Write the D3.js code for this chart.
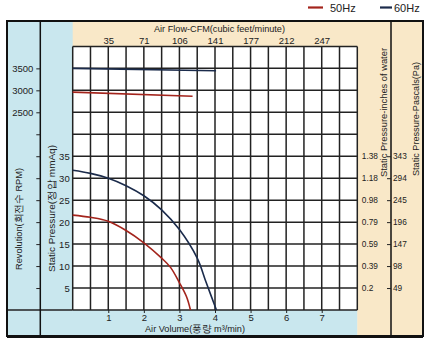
<!DOCTYPE html>
<html>
<head>
<meta charset="utf-8">
<script src="https://cdn.jsdelivr.net/npm/d3@7"></script>
<style>
  body { margin: 0; background: #fff; }
  svg { display: block; font-family: "Liberation Sans", Arial, sans-serif; }
  .axis text { fill: #222; }
  .axis .domain { display: none; }
</style>
</head>
<body>
<svg id="chart" width="425" height="341"></svg>
<script>
// air volume (m3/min) vs static pressure (mmAq)
const flow60 = [0, 0.5, 1, 1.5, 2, 2.5, 3, 3.5, 3.75, 4.04];
const press60 = [31.8, 31.1, 30.0, 28.3, 26.0, 22.8, 18.3, 11.8, 6.3, 0];
const flow50 = [0, 0.5, 1, 1.5, 2, 2.5, 2.75, 3, 3.2, 3.31];
const press50 = [21.6, 21.1, 20.2, 18.1, 15.3, 11.8, 9.7, 6.2, 3.0, 0];

// fan speed over the same flow range
const rpmFlow60 = [0, 4.03];
const rpm60 = [3500, 3445];
const rpmFlow50 = [0, 3.37];
const rpm50 = [2960, 2865];

const flowTicks = [1, 2, 3, 4, 5, 6, 7];
const cfmLabels = ["35", "71", "106", "141", "177", "212", "247"];
const pressTicks = [5, 10, 15, 20, 25, 30, 35];
const inchLabels = ["0.2", "0.39", "0.59", "0.79", "0.98", "1.18", "1.38"];
const pascalLabels = ["49", "98", "147", "196", "245", "294", "343"];
const rpmTicks = [2500, 3000, 3500];

const blue = "#c9e7ee", tan = "#f9e8c8";
const red = "#a3241c", navy = "#1b2b4b";

const svg = d3.select("#chart");

const x = d3.scaleLinear().domain([0, 8]).range([72.7, 357.3]);
const y = d3.scaleLinear().domain([0, 60]).range([310, 46.4]);
const yRpm = d3.scaleLinear().domain([2500, 3500]).range([y(45), y(55)]);

// background panels
svg.append("rect").attr("x", 7).attr("y", 21).attr("width", 66).attr("height", 316).attr("fill", blue);
svg.append("rect").attr("x", 72.7).attr("y", 310).attr("width", 285).attr("height", 27).attr("fill", blue);
svg.append("rect").attr("x", 72.7).attr("y", 21).attr("width", 351).attr("height", 25.4).attr("fill", tan);
svg.append("rect").attr("x", 357.3).attr("y", 21).attr("width", 66).attr("height", 316).attr("fill", tan);
svg.append("rect").attr("x", x(0)).attr("y", y(60)).attr("width", x(8) - x(0)).attr("height", y(0) - y(60)).attr("fill", "#fff");

// grid
const grid = svg.append("g").attr("stroke", "#222").attr("stroke-width", 1.5);
grid.selectAll(".v").data(d3.range(0, 8.01, 0.5)).join("line")
  .attr("x1", d => x(d)).attr("x2", d => x(d))
  .attr("y1", y(60)).attr("y2", y(0));
grid.selectAll(".h").data(d3.range(0, 60.1, 5)).join("line")
  .attr("x1", x(0)).attr("x2", x(8))
  .attr("y1", d => y(d)).attr("y2", d => y(d));

// frame and dividers
svg.append("line").attr("x1", 7).attr("x2", x(0)).attr("y1", y(0)).attr("y2", y(0)).attr("stroke", "#222").attr("stroke-width", 1.5);
svg.append("line").attr("x1", 40.3).attr("x2", 40.3).attr("y1", 21).attr("y2", 337).attr("stroke", "#111").attr("stroke-width", 1.5);
svg.append("line").attr("x1", 391).attr("x2", 391).attr("y1", 21).attr("y2", 337).attr("stroke", "#111").attr("stroke-width", 1.5);
svg.append("rect").attr("x", 7).attr("y", 21).attr("width", 416).attr("height", 315)
  .attr("fill", "none").attr("stroke", "#111").attr("stroke-width", 2);
svg.append("line").attr("x1", 7).attr("x2", 423).attr("y1", 336.5).attr("y2", 336.5).attr("stroke", "#111").attr("stroke-width", 3);

// axes
svg.append("g").attr("class", "axis").attr("transform", `translate(40.3,0)`)
  .call(d3.axisLeft(yRpm).tickValues(rpmTicks).tickSize(4).tickPadding(3).tickFormat(d3.format("d")))
  .call(g => g.selectAll("text").attr("font-size", 9.5))
  .call(g => g.selectAll("line").attr("stroke", "#222"));
svg.append("g").attr("class", "axis").attr("transform", `translate(40.3,0)`)
  .call(d3.axisLeft(y).tickValues(d3.range(5, 41, 5)).tickSize(4).tickFormat(""))
  .call(g => g.selectAll("line").attr("stroke", "#222"));

svg.append("g").attr("class", "axis").attr("transform", `translate(${x(0)},0)`)
  .call(d3.axisLeft(y).tickValues(pressTicks).tickSize(0).tickPadding(3))
  .call(g => g.selectAll("text").attr("font-size", 9.5));

svg.append("g").attr("class", "axis").attr("transform", `translate(${x(8)},0)`)
  .call(d3.axisRight(y).tickValues(pressTicks).tickSize(0).tickPadding(4.5)
    .tickFormat((d, i) => inchLabels[i]))
  .call(g => g.selectAll("text").attr("font-size", 8.3));

svg.append("g").attr("class", "axis").attr("transform", `translate(387,0)`)
  .call(d3.axisRight(y).tickValues(pressTicks).tickSize(4).tickPadding(2)
    .tickFormat((d, i) => pascalLabels[i]))
  .call(g => g.selectAll("text").attr("font-size", 8.3))
  .call(g => g.selectAll("line").attr("stroke", "#222"));

svg.append("g").attr("class", "axis").attr("transform", `translate(0,${y(0)})`)
  .call(d3.axisBottom(x).tickValues(flowTicks).tickSize(3).tickPadding(1))
  .call(g => g.selectAll("text").attr("font-size", 9.5))
  .call(g => g.selectAll("line").attr("stroke", "#222"));

svg.append("g").attr("class", "axis").attr("transform", `translate(0,${y(60)})`)
  .call(d3.axisTop(x).tickValues(flowTicks).tickSize(0).tickPadding(2)
    .tickFormat((d, i) => cfmLabels[i]))
  .call(g => g.selectAll("text").attr("font-size", 9.5));

// titles
svg.append("text").attr("x", 154).attr("y", 32.4).attr("font-size", 9.5)
  .attr("textLength", 131).attr("lengthAdjust", "spacingAndGlyphs").attr("fill", "#222")
  .text("Air Flow-CFM(cubic feet/minute)");
svg.append("text").attr("x", 145).attr("y", 331.5).attr("font-size", 9.5)
  .attr("textLength", 100).attr("lengthAdjust", "spacingAndGlyphs").attr("fill", "#222")
  .text("Air Volume(풍량 m³/min)");

const vTitle = (cx, start, len, label) =>
  svg.append("text").attr("transform", `translate(${cx},${start}) rotate(-90)`)
    .attr("font-size", 9.5).attr("textLength", len).attr("lengthAdjust", "spacingAndGlyphs")
    .attr("fill", "#222").text(label);
vTitle(21.5, 270, 102, "Revolution(회전수 RPM)");
vTitle(54.5, 272, 127, "Static Pressure(정압 mmAq)");
vTitle(386.5, 177, 129, "Static Pressure-inches of water");
vTitle(418.5, 176, 114, "Static Pressure-Pascals(Pa)");

// curves
const pLine = d3.line().x(d => x(d[0])).y(d => y(d[1])).curve(d3.curveCatmullRom.alpha(0.5));
const rLine = d3.line().x(d => x(d[0])).y(d => yRpm(d[1]));
const curves = svg.append("g").attr("fill", "none").attr("stroke-width", 1.6);
curves.append("path").attr("d", rLine(d3.zip(rpmFlow50, rpm50))).attr("stroke", red);
curves.append("path").attr("d", rLine(d3.zip(rpmFlow60, rpm60))).attr("stroke", navy);
curves.append("path").attr("d", pLine(d3.zip(flow50, press50))).attr("stroke", red);
curves.append("path").attr("d", pLine(d3.zip(flow60, press60))).attr("stroke", navy);

// legend
const legend = [{ label: "50Hz", color: red, x: 308 }, { label: "60Hz", color: navy, x: 380 }];
const lg = svg.append("g").selectAll("g").data(legend).join("g")
  .attr("transform", d => `translate(${d.x},7.5)`);
lg.append("line").attr("x1", 0).attr("x2", (d, i) => i ? 12 : 15)
  .attr("stroke", d => d.color).attr("stroke-width", 2.2);
lg.append("text").attr("x", (d, i) => i ? 14 : 22).attr("y", 4).attr("font-size", 11)
  .attr("fill", "#222").text(d => d.label);
</script>
</body>
</html>
